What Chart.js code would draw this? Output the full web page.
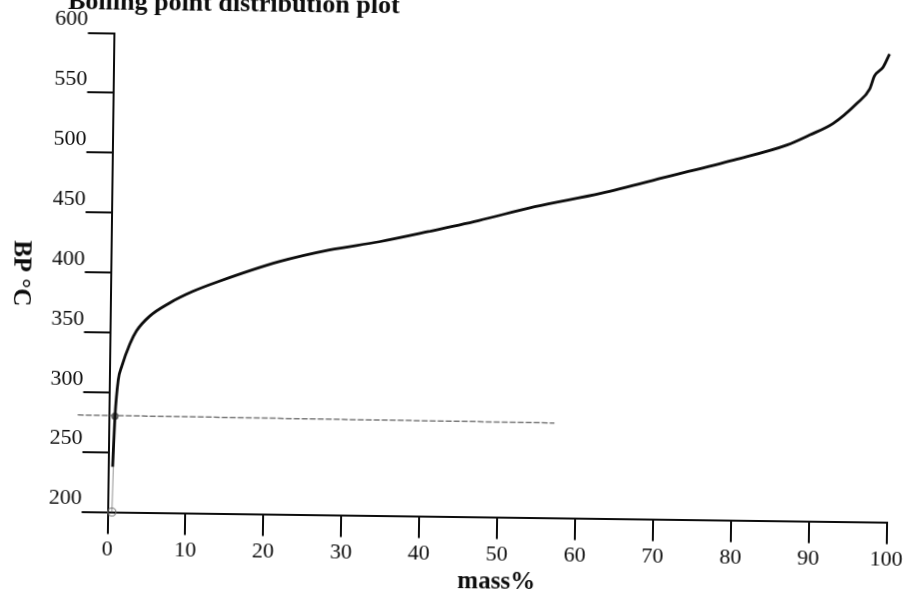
<!DOCTYPE html>
<html>
<head>
<meta charset="utf-8">
<script src="https://cdn.jsdelivr.net/npm/chart.js@4.4.1/dist/chart.umd.min.js"></script>
<style>
  html, body { margin: 0; padding: 0; background: #fff; overflow: hidden; }
  #wrap { width: 909px; height: 594px; transform: rotate(0.75deg); }
</style>
</head>
<body>
<div id="wrap"><canvas id="bpChart" width="909" height="594"></canvas></div>
<script>
// boiling point curve: mass% recovered vs BP in °C
const massPct = [0.56, 0.78, 1.14, 1.55, 2.57, 3.4, 5.07, 7.6, 10.5, 13.8, 21.6, 28.0, 34.4, 40.7, 47.1, 54.3, 62.8, 71.3, 79.8, 86.6, 89.5, 92.5, 95.5, 97.1, 97.7, 98.8, 99.6];
const boilingPt = [237.8, 279.7, 310.3, 321.4, 340.5, 351.5, 364.0, 375.2, 384.9, 393.5, 410.9, 421.2, 428.6, 437.6, 447.3, 459.6, 471.5, 486.1, 500.8, 513.9, 522.5, 532.5, 549.5, 561.5, 572.5, 580.0, 591.0];

// pencil marks: horizontal cut line and the drop to the axis
const cutMass = [-4.0, 57.2];
const cutBp = [280.7, 279.2];
const dropMass = [0.55, 0.78];
const dropBp = [200, 280];

const xTicks = [0, 10, 20, 30, 40, 50, 60, 70, 80, 90, 100];
const yTicks = [200, 250, 300, 350, 400, 450, 500, 550, 600];

const ink = '#0d0d0d';
const serif = '"Liberation Serif", "Times New Roman", serif';

const toPoints = (xs, ys) => xs.map((x, i) => ({ x: x, y: ys[i] }));

const textPlugin = {
    id: 'plotText',
    afterDraw(chart) {
        const ctx = chart.ctx;
        ctx.save();
        ctx.fillStyle = ink;
        ctx.textAlign = 'center';
        ctx.font = 'bold 26px ' + serif;
        ctx.textBaseline = 'alphabetic';
        ctx.fillText('Boiling point distribution plot', 230, 14);

        ctx.translate(20, 279);
        ctx.rotate(Math.PI / 2);
        ctx.font = 'bold 25px ' + serif;
        ctx.textBaseline = 'middle';
        ctx.fillText('BP °C', 0, 0);
        ctx.restore();
    }
};

new Chart(document.getElementById('bpChart'), {
    type: 'line',
    data: {
        datasets: [{
            label: 'BP',
            data: toPoints(massPct, boilingPt),
            borderColor: ink,
            borderWidth: 2.8,
            pointRadius: 0,
            cubicInterpolationMode: 'monotone',
            order: 0
        }, {
            label: 'cut',
            data: toPoints(cutMass, cutBp),
            borderColor: 'rgba(100, 100, 100, 0.85)',
            borderWidth: 1.5,
            borderDash: [6, 2],
            pointRadius: 0,
            clip: false,
            order: 1
        }, {
            label: 'drop',
            data: toPoints(dropMass, dropBp),
            borderColor: 'rgba(120, 120, 120, 0.8)',
            borderWidth: 1,
            pointRadius: [4, 3],
            pointBorderColor: ['rgba(110, 110, 110, 0.9)', 'rgba(70, 70, 70, 0.9)'],
            pointBackgroundColor: ['rgba(0, 0, 0, 0)', 'rgba(80, 80, 80, 0.7)'],
            pointBorderWidth: 1.2,
            clip: false,
            order: 1
        }]
    },
    options: {
        responsive: false,
        animation: false,
        devicePixelRatio: 1,
        layout: {
            padding: { top: 37.5, right: 16, bottom: 0, left: 0 }
        },
        plugins: {
            legend: { display: false },
            tooltip: { enabled: false }
        },
        scales: {
            x: {
                type: 'linear',
                min: 0,
                max: 100,
                afterFit: scale => { scale.height = 77.5; },
                afterBuildTicks: scale => { scale.ticks = xTicks.map(v => ({ value: v })); },
                border: { display: true, color: ink, width: 2 },
                grid: {
                    drawOnChartArea: false,
                    drawTicks: true,
                    tickLength: 22,
                    color: ink,
                    lineWidth: 2
                },
                ticks: {
                    color: ink,
                    padding: 3,
                    maxRotation: 0,
                    font: { family: serif, size: 22 }
                },
                title: {
                    display: true,
                    text: 'mass%',
                    color: ink,
                    padding: 0,
                    font: { family: serif, size: 25, weight: 'bold', lineHeight: 1 }
                }
            },
            y: {
                type: 'linear',
                min: 200,
                max: 600,
                afterFit: scale => { scale.width = 110.5; },
                afterBuildTicks: scale => { scale.ticks = yTicks.map(v => ({ value: v })); },
                border: { display: true, color: ink, width: 2 },
                grid: {
                    drawOnChartArea: false,
                    drawTicks: true,
                    tickLength: 26,
                    color: ink,
                    lineWidth: 2
                },
                ticks: {
                    color: ink,
                    padding: 0,
                    labelOffset: -13,
                    font: { family: serif, size: 22 }
                }
            }
        }
    },
    plugins: [textPlugin]
});
</script>
</body>
</html>
